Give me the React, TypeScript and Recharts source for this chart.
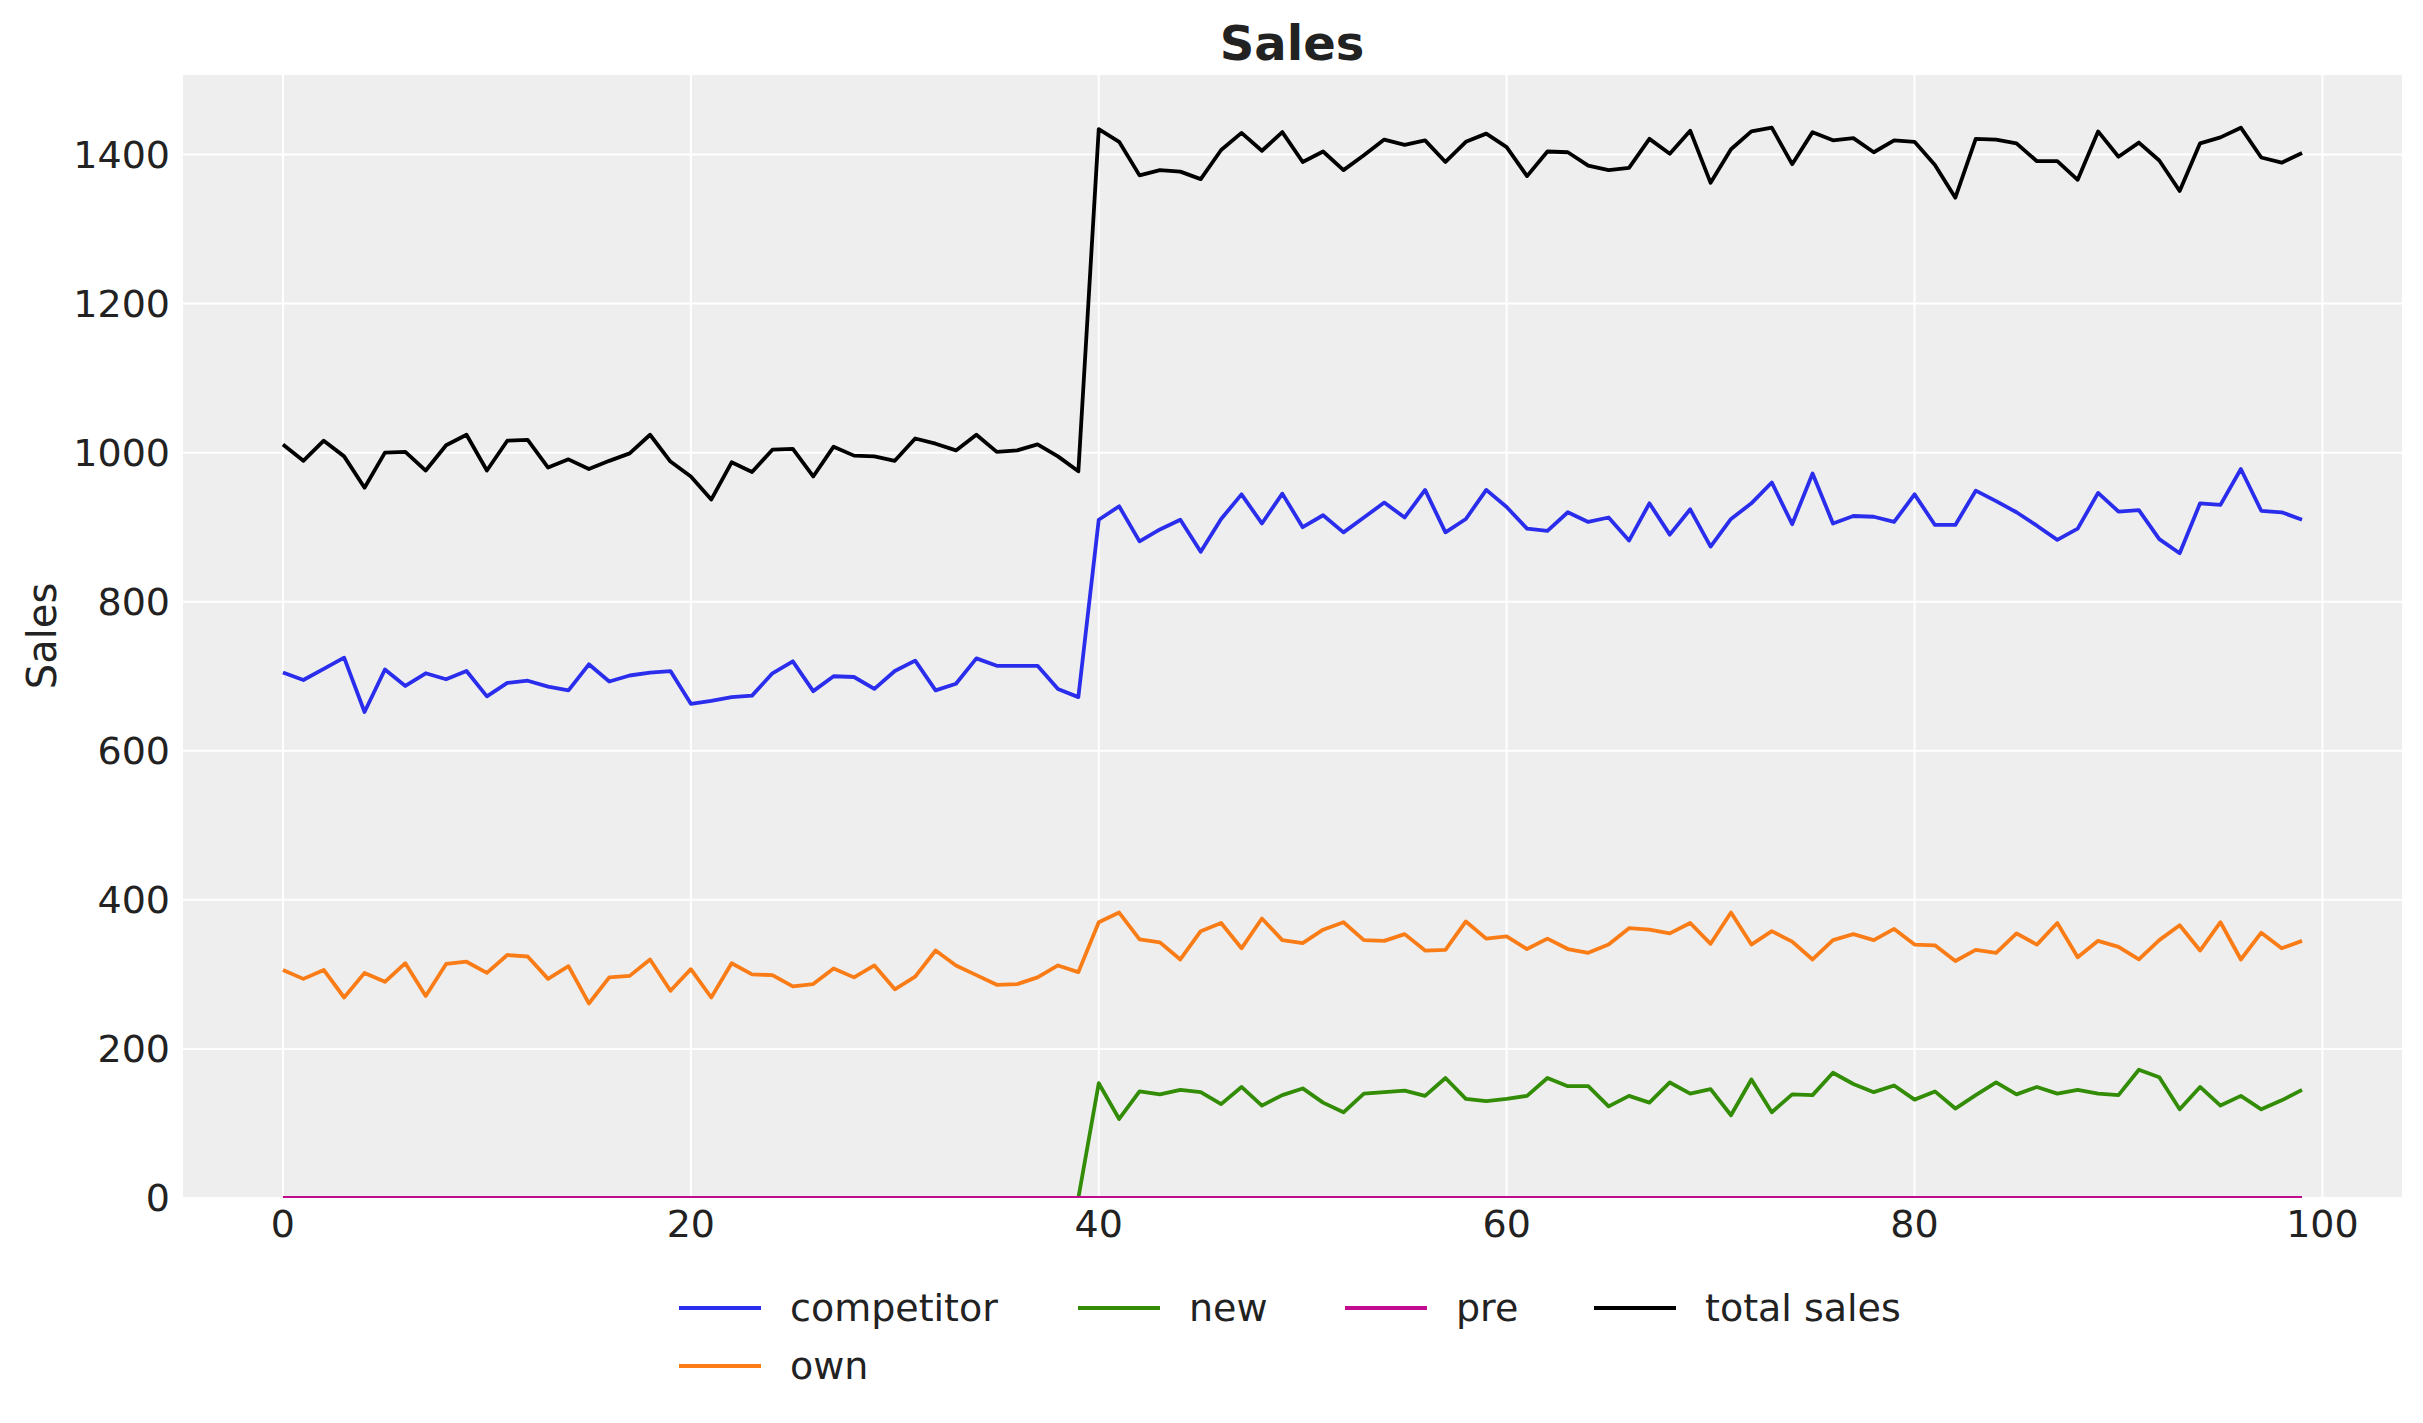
import React from 'react';
import { LineChart, Line, XAxis, YAxis, CartesianGrid } from 'recharts';

const competitor = [
  705, 695, 710, 725, 652, 709, 687, 704, 696, 707, 673, 691, 694, 686, 681, 716, 693, 701, 705, 707,
  663, 667, 672, 674, 704, 720, 680, 700, 699, 683, 707, 721, 681, 690, 724, 714, 714, 714, 683, 672,
  910, 928, 881, 897, 910, 867, 911, 944, 905, 945, 900, 916, 893, 913, 933, 913, 950, 893, 911, 950,
  927, 898, 895, 920, 907, 913, 882, 932, 890, 924, 874, 911, 932, 960, 904, 972, 905, 915, 914, 907,
  944, 903, 903, 949, 935, 920, 902, 883, 898, 946, 921, 923, 884, 865, 932, 930, 978, 922, 920, 910,
];

const own = [
  306, 294, 306, 269, 302, 290, 315, 271, 314, 317, 302, 326, 324, 294, 311, 261, 296, 298, 320, 278,
  307, 269, 315, 300, 299, 284, 287, 308, 296, 312, 280, 297, 332, 312, 299, 286, 287, 296, 312, 303,
  370, 383, 347, 343, 320, 358, 369, 335, 375, 346, 342, 360, 370, 346, 345, 354, 332, 333, 371, 348,
  351, 334, 348, 334, 329, 340, 362, 360, 355, 369, 341, 383, 340, 358, 344, 320, 346, 354, 346, 361,
  340, 339, 318, 333, 329, 355, 340, 369, 323, 345, 337, 320, 346, 366, 332, 370, 320, 356, 335, 345,
];

const newSales = [
  0, 0, 0, 0, 0, 0, 0, 0, 0, 0, 0, 0, 0, 0, 0, 0, 0, 0, 0, 0,
  0, 0, 0, 0, 0, 0, 0, 0, 0, 0, 0, 0, 0, 0, 0, 0, 0, 0, 0, 0,
  154, 106, 143, 139, 145, 142, 126, 149, 124, 138, 147, 128, 115, 140, 142, 144, 137, 161, 133, 130,
  133, 137, 161, 150, 150, 123, 137, 128, 155, 140, 146, 111, 159, 115, 139, 138, 168, 153, 142, 151,
  132, 143, 120, 138, 155, 139, 149, 140, 145, 140, 138, 172, 162, 119, 149, 124, 137, 119, 131, 145,
];

const pre = [
  0, 0, 0, 0, 0, 0, 0, 0, 0, 0, 0, 0, 0, 0, 0, 0, 0, 0, 0, 0,
  0, 0, 0, 0, 0, 0, 0, 0, 0, 0, 0, 0, 0, 0, 0, 0, 0, 0, 0, 0,
  0, 0, 0, 0, 0, 0, 0, 0, 0, 0, 0, 0, 0, 0, 0, 0, 0, 0, 0, 0,
  0, 0, 0, 0, 0, 0, 0, 0, 0, 0, 0, 0, 0, 0, 0, 0, 0, 0, 0, 0,
  0, 0, 0, 0, 0, 0, 0, 0, 0, 0, 0, 0, 0, 0, 0, 0, 0, 0, 0, 0,
];

const totalSales = [
  1011, 989, 1016, 995, 953, 1000, 1001, 976, 1010, 1024, 976, 1016, 1017, 980, 991, 978, 989, 999, 1024, 988,
  968, 937, 987, 974, 1004, 1005, 968, 1008, 996, 995, 989, 1019, 1012, 1003, 1024, 1001, 1003, 1011, 995, 975,
  1434, 1417, 1372, 1379, 1377, 1367, 1406, 1429, 1405, 1430, 1390, 1404, 1379, 1399, 1420, 1413, 1419, 1390, 1417, 1428,
  1410, 1371, 1404, 1403, 1385, 1379, 1382, 1421, 1401, 1432, 1362, 1407, 1431, 1436, 1387, 1430, 1419, 1422, 1403, 1419,
  1417, 1386, 1342, 1421, 1420, 1415, 1391, 1391, 1366, 1431, 1397, 1416, 1392, 1351, 1415, 1423, 1436, 1396, 1389, 1402,
];

const xTicks = [0, 20, 40, 60, 80, 100];
const yTicks = [0, 200, 400, 600, 800, 1000, 1200, 1400];

const seriesInfo = [
  { key: 'competitor', label: 'competitor', color: '#2a2eec' },
  { key: 'own', label: 'own', color: '#fa7c17' },
  { key: 'new', label: 'new', color: '#328c06' },
  { key: 'pre', label: 'pre', color: '#c10c90' },
  { key: 'total', label: 'total sales', color: '#000000' },
];

const data = totalSales.map((t, i) => ({
  t: i,
  competitor: competitor[i],
  own: own[i],
  new: newSales[i],
  pre: pre[i],
  total: t,
}));

const FONT = '"DejaVu Sans", sans-serif';
const TEXT = '#222222';

const legendItems = [
  { s: seriesInfo[0], x: 679, y: 1308 },
  { s: seriesInfo[1], x: 679, y: 1366 },
  { s: seriesInfo[2], x: 1078, y: 1308 },
  { s: seriesInfo[3], x: 1345, y: 1308 },
  { s: seriesInfo[4], x: 1594, y: 1308 },
];

export default function App() {
  return (
    <div style={{ position: 'absolute', left: 0, top: 0, width: 2423, height: 1423, background: '#ffffff', fontFamily: FONT }}>
      <LineChart
        width={2423}
        height={1423}
        data={data}
        margin={{ top: 74, right: 20, left: 0, bottom: 165 }}
      >
        <CartesianGrid fill="#eeeeee" stroke="#ffffff" strokeWidth={2} />
        <XAxis
          dataKey="t"
          type="number"
          domain={[-4.95, 103.95]}
          ticks={xTicks}
          allowDataOverflow
          axisLine={false}
          tickLine={false}
          tickSize={0}
          tickMargin={12}
          height={60}
          tick={{ fill: TEXT, fontSize: 38, fontFamily: FONT }}
        />
        <YAxis
          type="number"
          domain={[0, 1508]}
          ticks={yTicks}
          allowDataOverflow
          axisLine={false}
          tickLine={false}
          tickSize={0}
          tickMargin={12}
          width={182}
          tick={{ fill: TEXT, fontSize: 38, fontFamily: FONT }}
        />
        {seriesInfo.map((s) => (
          <Line
            key={s.key}
            type="linear"
            dataKey={s.key}
            name={s.label}
            stroke={s.color}
            strokeWidth={3.8}
            strokeLinejoin="round"
            dot={false}
            activeDot={false}
            isAnimationActive={false}
          />
        ))}
      </LineChart>
      <div style={{ position: 'absolute', left: 1292, top: 43, transform: 'translate(-50%, -50%)', fontSize: 48, fontWeight: 'bold', color: TEXT, whiteSpace: 'nowrap' }}>
        Sales
      </div>
      <div style={{ position: 'absolute', left: 42, top: 636, transform: 'translate(-50%, -50%) rotate(-90deg)', fontSize: 40, color: TEXT, whiteSpace: 'nowrap' }}>
        Sales
      </div>
      {legendItems.map(({ s, x, y }) => (
        <div key={s.key} style={{ position: 'absolute', left: x, top: y - 30, height: 60, display: 'flex', alignItems: 'center', whiteSpace: 'nowrap' }}>
          <svg width={82} height={8} style={{ display: 'block' }}>
            <line x1={0} y1={4} x2={82} y2={4} stroke={s.color} strokeWidth={4} />
          </svg>
          <span style={{ marginLeft: 29, fontSize: 38, color: TEXT, lineHeight: '60px' }}>{s.label}</span>
        </div>
      ))}
    </div>
  );
}
